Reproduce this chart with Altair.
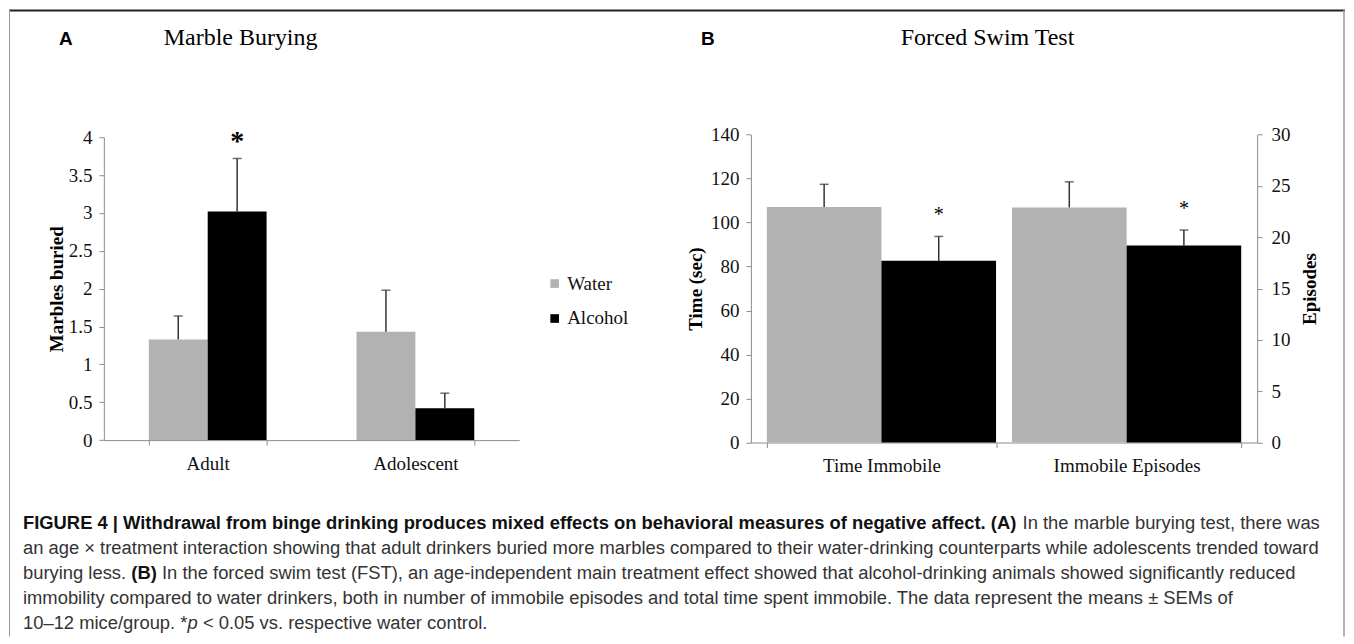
import altair as alt
import pandas as pd

# ---------------- data ----------------
ages = ["Adult", "Adolescent"]
groups = ["Water", "Alcohol"]
marble_age = ["Adult", "Adult", "Adolescent", "Adolescent"]
marble_group = ["Water", "Alcohol", "Water", "Alcohol"]
marble_mean = [1.33, 3.02, 1.43, 0.42]
marble_sem = [0.31, 0.70, 0.55, 0.20]
marble_sig = ["", "*", "", ""]
marble_ticks = [0, 0.5, 1, 1.5, 2, 2.5, 3, 3.5, 4]

fst_measures = ["Time Immobile", "Immobile Episodes"]
fst_group = ["Water", "Alcohol"]
time_mean = [107.1, 82.6]
time_sem = [10.3, 11.1]
time_sig = ["", "*"]
time_ticks = [0, 20, 40, 60, 80, 100, 120, 140]
episodes_mean = [22.9, 19.2]
episodes_sem = [2.5, 1.5]
episodes_sig = ["", "*"]
episode_ticks = [0, 5, 10, 15, 20, 25, 30]

title_a = "Marble Burying"
title_b = "Forced Swim Test"
ytitle_a = "Marbles buried"
ytitle_b = "Time (sec)"
ytitle_b2 = "Episodes"

caption = [
    [("FIGURE 4 | Withdrawal from binge drinking produces mixed effects on behavioral measures of negative affect. (A)", "bold", "normal"),
     (" In the marble burying test, there was", "normal", "normal")],
    [("an age \u00d7 treatment interaction showing that adult drinkers buried more marbles compared to their water-drinking counterparts while adolescents trended toward", "normal", "normal")],
    [("burying less. ", "normal", "normal"), ("(B)", "bold", "normal"),
     (" In the forced swim test (FST), an age-independent main treatment effect showed that alcohol-drinking animals showed significantly reduced", "normal", "normal")],
    [("immobility compared to water drinkers, both in number of immobile episodes and total time spent immobile. The data represent the means \u00b1 SEMs of", "normal", "normal")],
    [("10\u201312 mice/group. *", "normal", "normal"), ("p", "normal", "italic"),
     (" < 0.05 vs. respective water control.", "normal", "normal")],
]

# ---------------- layout / style ----------------
W, H = 1338, 628
SERIF = "Liberation Serif"
SANS = "Liberation Sans"
GREY = "#b2b2b2"
AX = "#8c8c8c"
ERR = "#333333"

color_scale = alt.Scale(domain=groups, range=[GREY, "#000000"])
off_scale = alt.Scale(domain=groups, paddingInner=0, paddingOuter=0)

# Helvetica / Arial (Liberation Sans) advance widths, 1/1000 em
REG = dict(zip(" !\"#$%&'()*+,-./0123456789:;<=>?",
               [278, 278, 355, 556, 556, 889, 667, 191, 333, 333, 389, 584, 278, 333, 278, 278] + [556] * 10 +
               [278, 278, 584, 584, 584, 556]))
REG.update(dict(zip("ABCDEFGHIJKLMNOPQRSTUVWXYZ",
                    [667, 667, 722, 722, 667, 611, 778, 722, 278, 500, 667, 556, 833, 722, 778, 667, 778, 722, 667, 611, 722, 667, 944, 667, 667, 611])))
REG.update(dict(zip("abcdefghijklmnopqrstuvwxyz",
                    [556, 556, 500, 556, 556, 278, 556, 556, 222, 222, 500, 222, 833, 556, 556, 556, 556, 333, 500, 278, 556, 500, 722, 500, 500, 500])))
REG.update({"|": 260, "\u00d7": 584, "\u00b1": 584, "\u2013": 556})
BOLD = dict(zip(" !\"#$%&'()*+,-./0123456789:;<=>?",
                [278, 333, 474, 556, 556, 889, 722, 238, 333, 333, 389, 584, 278, 333, 278, 278] + [556] * 10 +
                [333, 333, 584, 584, 584, 611]))
BOLD.update(dict(zip("ABCDEFGHIJKLMNOPQRSTUVWXYZ",
                     [722, 722, 722, 722, 667, 611, 778, 722, 278, 556, 722, 611, 833, 722, 778, 667, 778, 722, 667, 611, 722, 667, 944, 667, 667, 611])))
BOLD.update(dict(zip("abcdefghijklmnopqrstuvwxyz",
                     [556, 611, 556, 611, 556, 333, 611, 611, 278, 278, 556, 278, 889, 611, 611, 611, 611, 389, 556, 333, 611, 556, 778, 556, 556, 500])))
BOLD.update({"|": 280, "\u2013": 556})


def em_width(s, weight):
    table = BOLD if weight == "bold" else REG
    return sum(table.get(ch, 556) for ch in s) / 1000.0


def label(text, x, y, font, size, weight="normal", style="normal", color="#000000",
          align="left", baseline="alphabetic", angle=0):
    return alt.Chart(pd.DataFrame({"t": [text]})).mark_text(
        font=font, fontSize=size, fontWeight=weight, fontStyle=style, color=color,
        align=align, baseline=baseline, angle=angle
    ).encode(x=alt.value(x), y=alt.value(y), text="t:N")


def axis_common(**kw):
    base = dict(grid=False, domainColor=AX, tickColor=AX, tickSize=5, labelFont=SERIF,
                labelFontSize=19, labelColor="#111111", titleFont=SERIF, titleFontSize=19,
                titleFontWeight="bold", titleColor="#000000")
    base.update(kw)
    return alt.Axis(**base)


def band_geometry(rng, n, p_in, p_out, n_off):
    step = (rng[1] - rng[0]) / (n - p_in + 2 * p_out)
    bw = step * (1 - p_in)
    return bw, bw / n_off


layers = []

# ---------------- panel A ----------------
dfA = pd.DataFrame({"age": marble_age, "group": marble_group, "mean": marble_mean,
                    "top": [m + s for m, s in zip(marble_mean, marble_sem)], "sig": marble_sig})
A_range, A_pin, A_pout = [95, 511], 0.433, 0.2165
xA_scale = alt.Scale(domain=ages, range=A_range, paddingInner=A_pin, paddingOuter=A_pout)
yA_scale = alt.Scale(domain=[0, 4], range=[431.3, 128], nice=False)
A_y0 = 431.3
A_bw, A_obw = band_geometry(A_range, len(ages), A_pin, A_pout, len(groups))


def xA(axis=None):
    return alt.X("age:N", scale=xA_scale, sort=ages, axis=axis)


def offA():
    return alt.XOffset("group:N", scale=off_scale, sort=groups)


barsA = alt.Chart(dfA).mark_bar().encode(
    x=xA(axis_common(orient="bottom", offset=A_y0 - H, title=None, labelAngle=0,
                     tickBand="extent", labelPadding=9)),
    xOffset=offA(),
    y=alt.Y("mean:Q", scale=yA_scale,
            axis=axis_common(orient="left", offset=-95, values=marble_ticks, format="~g",
                             title=ytitle_a, labelPadding=7, titlePadding=2)),
    color=alt.Color("group:N", scale=color_scale, sort=groups,
                    legend=alt.Legend(orient="none", legendX=537, legendY=265, title=None,
                                      symbolType="square", symbolSize=75, symbolStrokeWidth=0,
                                      labelFont=SERIF, labelFontSize=19, labelColor="#111111",
                                      rowPadding=15, labelOffset=3, padding=0)),
)
errA = alt.Chart(dfA).mark_rule(color=ERR, strokeWidth=1.5).encode(
    x=xA(), xOffset=offA(), y=alt.Y("mean:Q", scale=yA_scale, axis=None), y2="top:Q")
capA = alt.Chart(dfA).mark_tick(orient="horizontal", size=9, thickness=1.5, color=ERR).encode(
    x=xA(), xOffset=offA(), y=alt.Y("top:Q", scale=yA_scale, axis=None))
sigA = alt.Chart(dfA).mark_text(font=SERIF, fontSize=28, fontWeight="bold", color="#000000", dy=-8,
                                dx=round(-A_bw / 2 + A_obw / 2, 1), baseline="alphabetic").encode(
    x=xA(), xOffset=offA(), y=alt.Y("top:Q", scale=yA_scale, axis=None), text="sig:N")
layers += [barsA, errA, capA, sigA]

# ---------------- panel B ----------------
dfT = pd.DataFrame({"measure": [fst_measures[0]] * 2, "group": fst_group, "mean": time_mean,
                    "top": [m + s for m, s in zip(time_mean, time_sem)], "sig": time_sig})
dfE = pd.DataFrame({"measure": [fst_measures[1]] * 2, "group": fst_group, "mean": episodes_mean,
                    "top": [m + s for m, s in zip(episodes_mean, episodes_sem)], "sig": episodes_sig})
B_range, B_pin, B_pout = [743, 1250], 0.065, 0.065
xB_scale = alt.Scale(domain=fst_measures, range=B_range, paddingInner=B_pin, paddingOuter=B_pout)
B_bw, B_obw = band_geometry(B_range, len(fst_measures), B_pin, B_pout, len(groups))
B_y0 = 433.7
yT_scale = alt.Scale(domain=[0, 140], range=[B_y0, 125.3], nice=False)
yE_scale = alt.Scale(domain=[0, 30], range=[B_y0, 125.3], nice=False)


def xB(axis=None):
    return alt.X("measure:N", scale=xB_scale, sort=fst_measures, axis=axis)


barsT = alt.Chart(dfT).mark_bar().encode(
    x=xB(axis_common(orient="bottom", offset=B_y0 - H, title=None, labelAngle=0,
                     tickBand="extent", labelPadding=9)),
    xOffset=offA(),
    y=alt.Y("mean:Q", scale=yT_scale,
            axis=axis_common(orient="left", offset=-743, values=time_ticks,
                             title=ytitle_b, labelPadding=7, titlePadding=5)),
    color=alt.Color("group:N", scale=color_scale, sort=groups, legend=None),
)
barsE = alt.Chart(dfE).mark_bar().encode(
    x=xB(), xOffset=offA(),
    y=alt.Y("mean:Q", scale=yE_scale,
            axis=axis_common(orient="right", offset=1250 - W, values=episode_ticks,
                             title=ytitle_b2, labelPadding=9, titlePadding=29, titleAngle=270)),
    color=alt.Color("group:N", scale=color_scale, sort=groups, legend=None),
)
layers += [barsT, barsE]
for df, ysc in ((dfT, yT_scale), (dfE, yE_scale)):
    layers.append(alt.Chart(df).mark_rule(color=ERR, strokeWidth=1.5).encode(
        x=xB(), xOffset=offA(), y=alt.Y("mean:Q", scale=ysc, axis=None), y2="top:Q"))
    layers.append(alt.Chart(df).mark_tick(orient="horizontal", size=9, thickness=1.5, color=ERR).encode(
        x=xB(), xOffset=offA(), y=alt.Y("top:Q", scale=ysc, axis=None)))
    layers.append(alt.Chart(df).mark_text(font=SERIF, fontSize=20, color="#000000", dy=-15,
                                          dx=round(-B_bw / 2 + B_obw / 2, 1),
                                          baseline="alphabetic").encode(
        x=xB(), xOffset=offA(), y=alt.Y("top:Q", scale=ysc, axis=None), text="sig:N"))

# ---------------- headings ----------------
layers.append(label("A", 57, 36, SANS, 19, weight="bold", align="center"))
layers.append(label(title_a, 232, 36, SERIF, 24, align="center"))
layers.append(label("B", 700, 36, SANS, 19, weight="bold", align="center"))
layers.append(label(title_b, 980, 36, SERIF, 24, align="center"))

# ---------------- caption ----------------
cap_x0 = 14
cap_target = 1299
line1_em = sum(em_width(s, w) for s, w, _ in caption[0])
cap_fs = cap_target / line1_em
cap_ys = [514, 539, 564, 589, 614]
for line, yy in zip(caption, cap_ys):
    cum = 0.0
    for s, w, st in line:
        lead = len(s) - len(s.lstrip(" "))
        xx = cap_x0 + cap_fs * (cum + em_width(s[:lead], w))
        layers.append(label(s.strip(), round(xx, 1), yy, SANS, round(cap_fs, 2), weight=w, style=st,
                            color="#111111" if w == "bold" else "#333333", baseline="middle"))
        cum += em_width(s, w)

# ---------------- frame ----------------
layers.append(alt.Chart(pd.DataFrame({"t": [0]})).mark_rule(color="#222222", strokeWidth=2).encode(
    x=alt.value(0), x2=alt.value(W), y=alt.value(1)))
layers.append(alt.Chart(pd.DataFrame({"t": [0]})).mark_rule(color="#9a9a9a", strokeWidth=1).encode(
    x=alt.value(0.5), y=alt.value(0), y2=alt.value(H)))
layers.append(alt.Chart(pd.DataFrame({"t": [0]})).mark_rule(color="#9a9a9a", strokeWidth=1.5).encode(
    x=alt.value(W - 1), y=alt.value(0), y2=alt.value(H)))

chart = alt.layer(*layers).resolve_scale(
    x="independent", y="independent", color="independent", xOffset="independent"
).properties(width=W, height=H, padding=0).configure_view(stroke=None)

chart.save("out.html", embed_options={"renderer": "svg", "actions": False})
